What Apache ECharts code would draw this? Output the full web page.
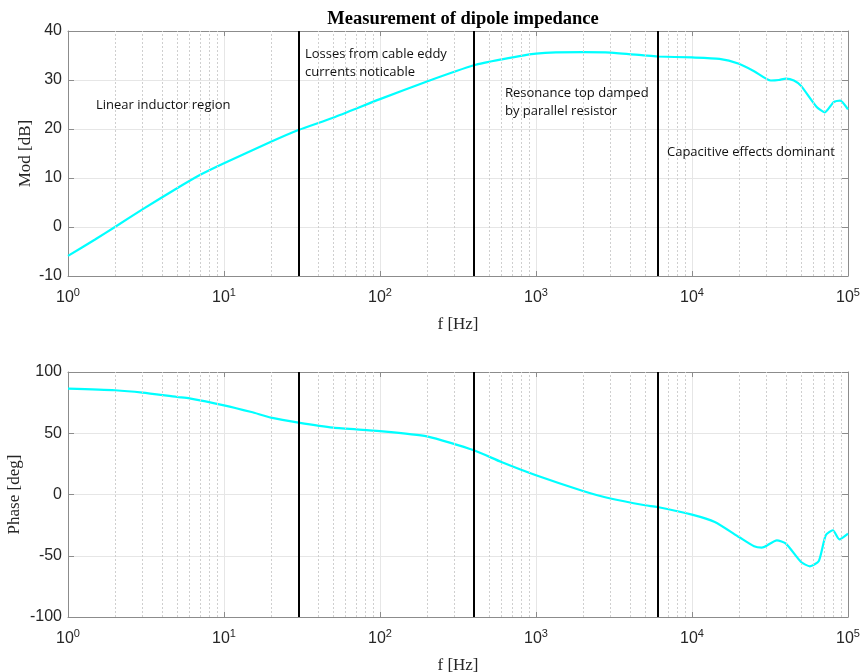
<!DOCTYPE html>
<html><head><meta charset="utf-8">
<script src="https://cdn.jsdelivr.net/npm/echarts@6/dist/echarts.min.js"></script>
<style>html,body{margin:0;padding:0;background:#fff}#c{width:861px;height:672px}</style>
</head><body><div id="c"></div>
<script>
// ---- data ----
const freqMod = [1, 1.5, 2, 3, 5, 7, 10, 20, 30, 50, 100, 200, 400, 600, 1000, 2000, 3000, 5000, 6000, 10000, 15000, 20000, 25000, 32000, 36000, 40000, 45000, 50000, 63000, 71000, 81000, 89000, 100000];
const modDb   = [-5.9, -2.5, 0.0, 3.6, 7.9, 10.6, 13.0, 17.4, 19.8, 22.3, 26.1, 29.7, 33.0, 34.2, 35.4, 35.7, 35.6, 35.0, 34.8, 34.6, 34.3, 33.3, 31.8, 29.9, 30.0, 30.3, 29.9, 28.8, 24.5, 23.4, 25.5, 25.8, 24.0];
const freqPh  = [1, 2, 3, 5, 6, 10, 15, 20, 30, 50, 100, 200, 400, 600, 1000, 2000, 3000, 5000, 6000, 10000, 14000, 20000, 25000, 28000, 35000, 40000, 50000, 57000, 65000, 72000, 80000, 88000, 100000];
const phaseDeg= [86.4, 85.1, 83.2, 79.6, 78.5, 72.8, 67.3, 62.8, 58.7, 54.6, 51.8, 47.5, 36.1, 26.5, 15.7, 2.9, -3.3, -8.8, -10.2, -16.4, -22.4, -34.7, -42.3, -43.4, -37.4, -40.1, -55.1, -58.6, -54.3, -33.3, -29.2, -36.6, -31.9];
const regionBounds = [30, 400, 6000];
const modTicks = [-10, 0, 10, 20, 30, 40];
const phaseTicks = [-100, -50, 0, 50, 100];
const title = 'Measurement of dipole impedance';
const annotations = [
  {text: 'Linear inductor region', x: 96, y: 96},
  {text: 'Losses from cable eddy\ncurrents noticable', x: 305, y: 45},
  {text: 'Resonance top damped\nby parallel resistor', x: 505, y: 84},
  {text: 'Capacitive effects dominant', x: 667, y: 143}
];

// minor grid positions (2..9 x decade)
const minorGrid = [];
for (let d = 0; d < 5; d++) for (let m = 2; m <= 9; m++) minorGrid.push(m * Math.pow(10, d));

const serif = '"Liberation Serif", "DejaVu Serif", serif';
const sans = '"Liberation Sans", Arial, sans-serif';
const gridTop = {left: 68, right: 13, top: 31, height: 245, outerBoundsMode: 'none', containLabel: false};
const gridBot = {left: 68, right: 13, top: 372, height: 245, outerBoundsMode: 'none', containLabel: false};

function xAxisCfg(gi) {
  return {
    type: 'log', logBase: 10, min: 1, max: 100000, gridIndex: gi,
    name: 'f [Hz]', nameLocation: 'middle', nameGap: 40, nameMoveOverlap: false,
    nameTextStyle: {fontFamily: serif, fontSize: 17, color: '#262626'},
    axisLine: {onZero: false, lineStyle: {color: '#8c8c8c', width: 1}},
    axisTick: {inside: true, length: 5, lineStyle: {color: '#8c8c8c'}},
    splitLine: {show: true, lineStyle: {color: '#e6e6e6', width: 1}},
    axisLabel: {
      margin: 11, color: '#262626', fontFamily: sans, fontSize: 16,
      formatter: v => '10{s|' + Math.round(Math.log10(v)) + '}',
      rich: {s: {fontSize: 11, verticalAlign: 'top', padding: [0, 0, 10, 0], fontFamily: sans, color: '#262626'}}
    }
  };
}
function xTopCfg(gi) {
  return {type: 'log', logBase: 10, min: 1, max: 100000, gridIndex: gi, position: 'top',
    axisLine: {onZero: false, lineStyle: {color: '#8c8c8c'}}, axisTick: {inside: true, length: 5, lineStyle: {color: '#8c8c8c'}},
    axisLabel: {show: false}, splitLine: {show: false}};
}
function yAxisCfg(gi, name, min, max, interval, gap) {
  return {
    type: 'value', gridIndex: gi, min, max, interval,
    name, nameLocation: 'middle', nameGap: gap, nameMoveOverlap: false,
    nameTextStyle: {fontFamily: serif, fontSize: 17, color: '#262626'},
    axisLine: {show: true, onZero: false, lineStyle: {color: '#8c8c8c'}},
    axisTick: {show: true, inside: true, length: 6, lineStyle: {color: '#8c8c8c'}},
    splitLine: {show: true, lineStyle: {color: '#e6e6e6'}},
    axisLabel: {color: '#262626', fontFamily: sans, fontSize: 16, margin: 6}
  };
}
function yRightCfg(gi, min, max, interval) {
  return {type: 'value', gridIndex: gi, min, max, interval, position: 'right',
    axisLine: {show: true, onZero: false, lineStyle: {color: '#8c8c8c'}},
    axisTick: {show: true, inside: true, length: 6, lineStyle: {color: '#8c8c8c'}},
    axisLabel: {show: false}, splitLine: {show: false}};
}
function boundsMark() {
  return {silent: true, symbol: ['none', 'none'], label: {show: false},
    lineStyle: {color: '#000', width: 2, type: 'solid'},
    data: regionBounds.map(v => ({xAxis: v}))};
}
function minorMark() {
  return {silent: true, symbol: ['none', 'none'], label: {show: false},
    lineStyle: {color: '#cfcfcf', width: 1, type: [2, 2]},
    data: minorGrid.map(v => ({xAxis: v}))};
}

const chart = echarts.init(document.getElementById('c'), null, {renderer: 'canvas'});
chart.setOption({
  animation: false,
  backgroundColor: '#fff',
  title: {text: title, left: 458, top: 5, textAlign: 'center',
    textStyle: {fontFamily: serif, fontWeight: 'bold', fontSize: 18.5, color: '#000'}},
  grid: [gridTop, gridBot],
  xAxis: [xAxisCfg(0), xAxisCfg(1), xTopCfg(0), xTopCfg(1)],
  yAxis: [yAxisCfg(0, 'Mod [dB]', -10, 40, 10, 34), yAxisCfg(1, 'Phase [deg]', -100, 100, 50, 45),
          yRightCfg(0, -10, 40, 10), yRightCfg(1, -100, 100, 50)],
  series: [
    {type: 'line', xAxisIndex: 0, yAxisIndex: 0, data: [], markLine: minorMark(), z: 1},
    {type: 'line', xAxisIndex: 1, yAxisIndex: 1, data: [], markLine: minorMark(), z: 1},
    {type: 'line', xAxisIndex: 0, yAxisIndex: 0, showSymbol: false, smooth: 0.2,
      lineStyle: {color: '#00ffff', width: 2.2}, itemStyle: {color: '#00ffff'},
      data: freqMod.map((f, i) => [f, modDb[i]]), markLine: boundsMark(), z: 3},
    {type: 'line', xAxisIndex: 1, yAxisIndex: 1, showSymbol: false, smooth: 0.2,
      lineStyle: {color: '#00ffff', width: 2.2}, itemStyle: {color: '#00ffff'},
      data: freqPh.map((f, i) => [f, phaseDeg[i]]), markLine: boundsMark(), z: 3}
  ],
  graphic: annotations.map(a => ({type: 'text', left: a.x, top: a.y, z: 10,
    style: {text: a.text, fontFamily: '"Open Sans", "Noto Sans", sans-serif', fontSize: 13, fill: '#111', lineHeight: 18}}))
});
</script></body></html>
